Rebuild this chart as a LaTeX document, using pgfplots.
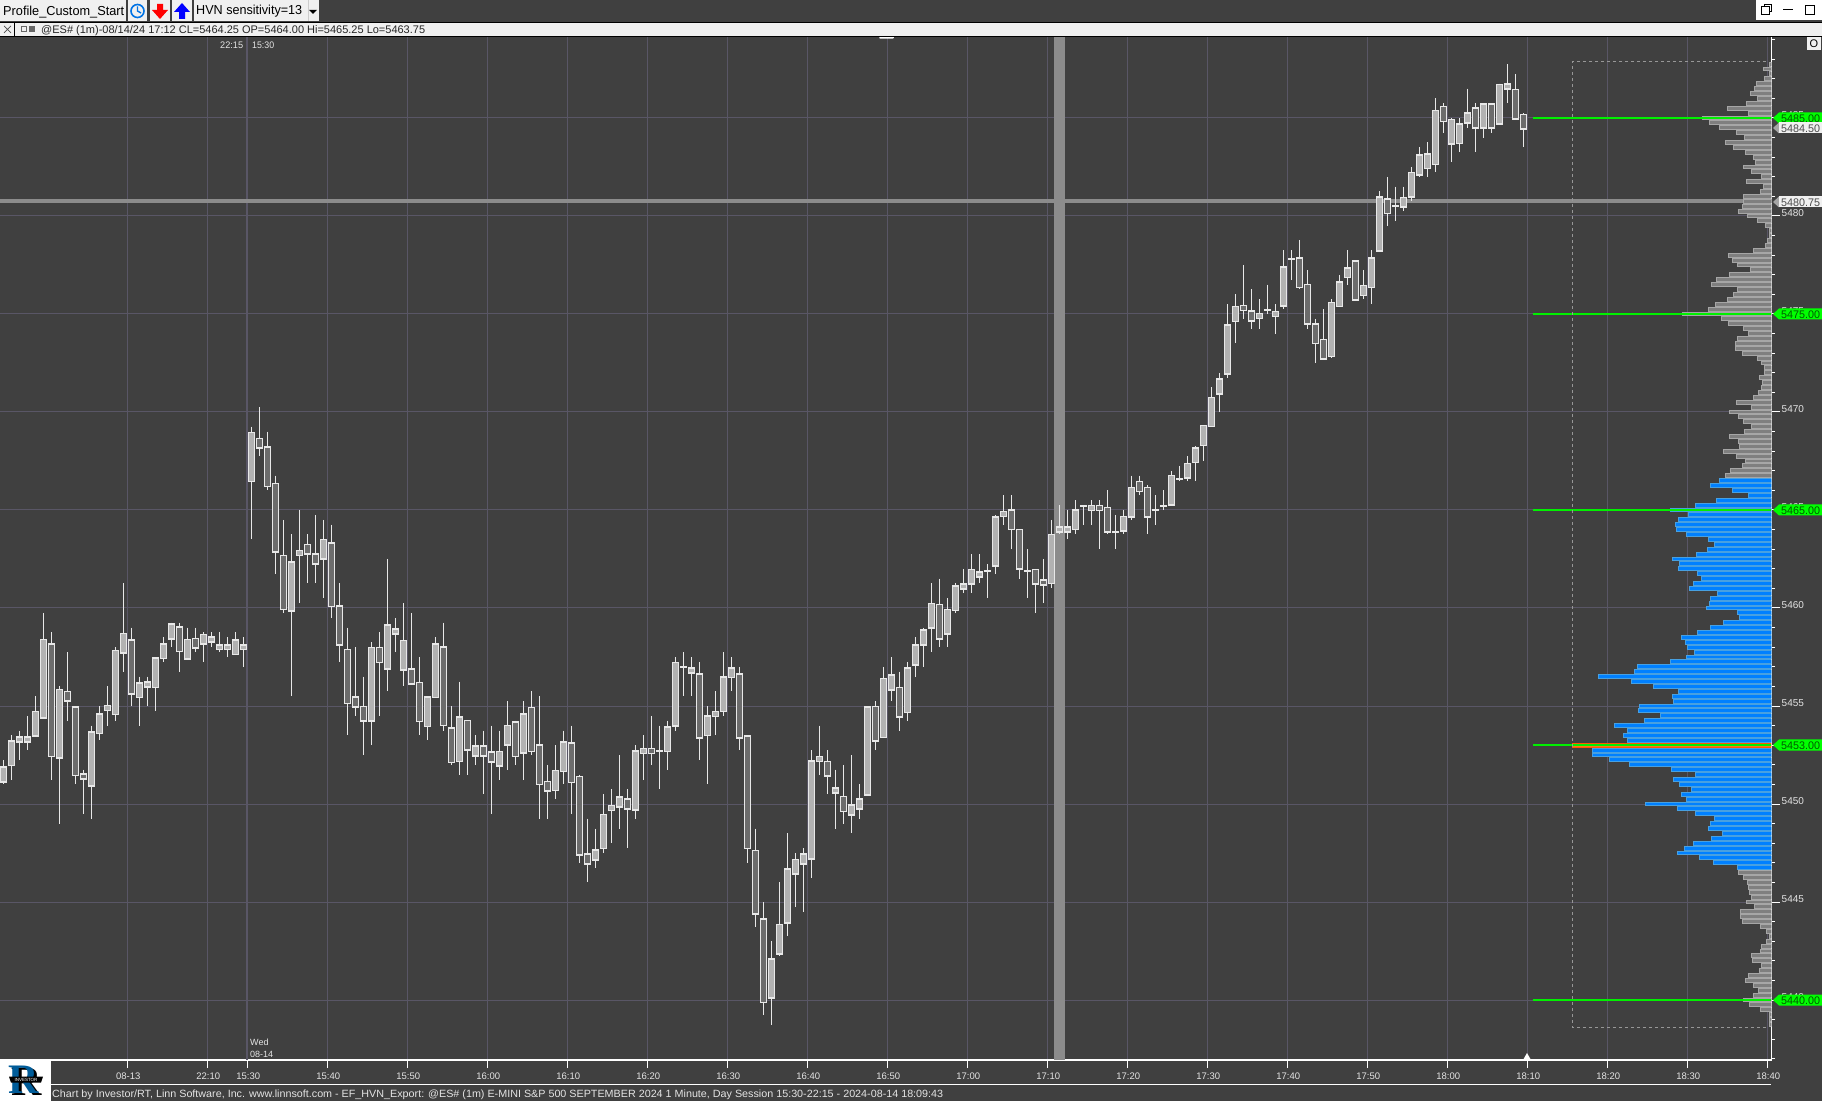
\documentclass[border=0pt]{standalone}
\usepackage{graphicx}
\usepackage{fontspec}
\setmainfont{Liberation Sans}
\newfontfamily\serifb{Liberation Serif}
\usepackage{pgfplots}
\usepackage{pgfplotstable}
\pgfplotsset{compat=1.18}
\definecolor{bg}{HTML}{404040}
\definecolor{gridc}{HTML}{595666}
\definecolor{cross}{HTML}{8C8C8C}
\definecolor{upc}{HTML}{B2B2B2}
\definecolor{dnc}{HTML}{6C6C6C}
\definecolor{edge}{HTML}{E8E8E8}
\definecolor{grn}{HTML}{00F000}
\definecolor{tagg}{HTML}{00FF00}
\definecolor{bluef}{HTML}{0080FF}
\definecolor{blued}{HTML}{48A0E0}
\definecolor{greyf}{HTML}{7F7F7F}
\definecolor{greyd}{HTML}{A6A6A6}
\definecolor{btn}{HTML}{F0F0F0}
\definecolor{txtl}{HTML}{E4E4E4}
\pgfplotstableread{
i o h l c
0 5451.25 5452.25 5451 5452
1 5452 5453.5 5451.25 5453.25
2 5453.25 5453.75 5452.25 5453.5
3 5453.25 5454.5 5452.75 5453.5
4 5453.5 5455.5 5453.5 5454.75
5 5454.5 5459.75 5454.5 5458.5
6 5458.25 5458.75 5451.25 5452.5
7 5452.5 5456 5449 5456
8 5455.75 5457.75 5454.25 5455.25
9 5455 5455 5451 5451.5
10 5451.5 5451.75 5449.5 5451.25
11 5451 5454 5449.25 5453.75
12 5453.75 5455 5453.25 5454.75
13 5454.75 5456 5454 5455
14 5454.75 5458 5454.25 5458
15 5457.75 5461.25 5456.75 5458.75
16 5458.5 5459 5455 5455.75
17 5455.5 5456.5 5454 5456.25
18 5456 5456.5 5455 5456.25
19 5456 5457.5 5454.75 5457.5
20 5457.5 5458.5 5457.25 5458.25
21 5458.5 5459.25 5458 5459.25
22 5459 5459.25 5456.75 5457.75
23 5457.5 5459 5457.5 5458.5
24 5458.5 5459 5457.75 5458
25 5458.25 5458.75 5457.25 5458.75
26 5458.25 5458.75 5458 5458.5
27 5458 5458.75 5457.75 5458.25
28 5458 5458.5 5457.5 5458.25
29 5457.75 5458.75 5457.75 5458.5
30 5458 5458.5 5457 5458.25
31 5466.5 5469.25 5463.5 5469
32 5468.75 5470.25 5467.75 5468.25
33 5468.25 5469 5466 5466.25
34 5466.5 5466.75 5461.75 5463
35 5462.75 5464.5 5459.75 5460
36 5460 5463.75 5455.5 5462.5
37 5462.75 5465 5460.25 5463
38 5463.25 5463.75 5461.25 5462.75
39 5462.75 5464.75 5461.25 5462.25
40 5462.5 5464.5 5460.5 5463.5
41 5463.5 5464.25 5459.5 5460.25
42 5460.25 5461.25 5457.25 5458.25
43 5458 5459 5453.5 5455.25
44 5455.5 5458 5454.5 5455
45 5455 5456.5 5452.5 5454.25
46 5454.25 5458.25 5453 5458
47 5458 5458.75 5454.5 5457.25
48 5457 5462.5 5455.75 5459.25
49 5458.75 5459.5 5457.75 5459
50 5457 5460.25 5456 5458.5
51 5457 5459.75 5456.25 5456.25
52 5456.25 5457.5 5453.5 5454.25
53 5454 5455.5 5453.25 5455.5
54 5455.5 5458.5 5455.5 5458.25
55 5458 5459.25 5453.75 5454
56 5454 5455 5452 5452.25
57 5452.25 5456.25 5451.5 5454.5
58 5454.25 5454.25 5451.5 5452.75
59 5452.5 5453.5 5452 5453
60 5453 5453.75 5450.5 5452.5
61 5452.75 5454 5449.5 5452.25
62 5452 5453.75 5451.25 5452.75
63 5453 5455.25 5451.75 5454
64 5454.25 5454.25 5452 5452.5
65 5452.75 5455.25 5451.25 5454.75
66 5455 5455.75 5452.5 5452.75
67 5453 5455.5 5449.25 5451
68 5451.25 5452 5449.25 5450.75
69 5450.75 5453 5450.25 5451.75
70 5451.75 5453.75 5451 5453.25
71 5453.25 5454 5449.5 5451.25
72 5451.5 5451.5 5447 5447.5
73 5447.5 5449.25 5446 5447
74 5447.25 5448.75 5446.75 5447.75
75 5447.75 5450.5 5447.5 5449.5
76 5449.75 5450.75 5448 5450
77 5450 5452.5 5448.75 5450.5
78 5450.25 5450.75 5447.75 5449.75
79 5449.75 5453 5449.25 5452.75
80 5452.75 5453.5 5451.25 5453
81 5453 5454.5 5452 5452.75
82 5452.75 5454 5450.75 5452.75
83 5452.75 5454.25 5451.75 5454
84 5454 5457.5 5453.75 5457.25
85 5457 5457.75 5455.5 5457
86 5456.75 5457.5 5455.5 5457
87 5456.75 5457.25 5452.25 5453.5
88 5453.5 5455 5451 5454.5
89 5454.5 5455.75 5453.5 5454.75
90 5454.75 5457.75 5454.5 5456.5
91 5456.5 5457.5 5455.75 5457
92 5456.75 5457 5452.75 5453.5
93 5453.5 5453.5 5447 5447.75
94 5447.75 5448.75 5443.75 5444.5
95 5444.25 5445 5439.25 5440
96 5440.25 5443 5438.75 5442.25
97 5442.5 5446 5442.25 5444
98 5444 5448.5 5443.25 5446.75
99 5446.5 5447.5 5444.75 5447.25
100 5447 5447.75 5444.5 5447.5
101 5447.25 5452.75 5446.25 5452.25
102 5452.25 5454 5451.5 5452.5
103 5452.25 5452.75 5450.5 5451.5
104 5450.75 5451.75 5448.75 5451
105 5450.5 5452 5449 5449.75
106 5449.5 5452.5 5448.5 5450
107 5449.75 5451 5449.25 5450.25
108 5450.5 5455 5450.5 5455
109 5455 5455.25 5452.75 5453.25
110 5453.5 5457 5453.5 5456.5
111 5456 5457.5 5455.25 5456.75
112 5456 5456.75 5453.75 5454.5
113 5454.75 5457.25 5454.25 5457
114 5457.25 5458.5 5456.5 5458.25
115 5458.25 5459 5457 5459
116 5459 5461.25 5457.75 5460.25
117 5460.25 5461.5 5458 5458.5
118 5458.75 5460.5 5458 5460
119 5460 5461.25 5459.75 5461.25
120 5461 5462 5460.75 5461.25
121 5461.25 5462.75 5460.75 5462
122 5461.75 5462.75 5461.25 5462
123 5462 5462.25 5460.5 5462
124 5462.25 5464.75 5461.75 5464.75
125 5464.75 5465.75 5464.25 5465
126 5465 5465.75 5463 5464
127 5464 5464 5461.5 5462
128 5462 5463 5460.5 5462
129 5462 5462 5459.75 5461.25
130 5461.5 5462.5 5460.25 5461.25
131 5461.25 5464.5 5461 5463.75
132 5464 5465.25 5463.75 5464.25
133 5464 5465 5463.5 5464.25
134 5464 5465.5 5463.75 5465
135 5465.25 5465.25 5464.25 5465.25
136 5465 5465.5 5464.25 5465.25
137 5465.25 5465.5 5463 5465
138 5465.25 5466 5463.75 5464
139 5464 5464.75 5463 5464
140 5464 5465 5463.75 5464.75
141 5464.75 5466.75 5464.5 5466.25
142 5466.5 5466.75 5465.75 5466
143 5466.25 5466.25 5463.75 5464.75
144 5465 5465.75 5464.25 5465
145 5465.25 5466 5465 5465.25
146 5465.25 5467 5465.25 5466.75
147 5466.75 5467.25 5466.5 5466.75
148 5466.75 5467.75 5466.5 5467.5
149 5467.5 5468.25 5466.5 5468.25
150 5468.25 5469.25 5467.5 5469.25
151 5469.25 5471.25 5469.25 5470.75
152 5471 5472 5470 5471.75
153 5472 5475.5 5471.75 5474.5
154 5474.75 5476 5473.5 5475.5
155 5475.5 5477.5 5474.75 5475.25
156 5475.25 5476.25 5474.25 5474.75
157 5474.75 5475.75 5474.25 5475
158 5475.25 5476.5 5475 5475.25
159 5475 5475.5 5474 5475.25
160 5475.5 5478.25 5475.25 5477.5
161 5477.75 5478.25 5476.75 5477.75
162 5478 5478.75 5476.25 5476.5
163 5476.5 5477.25 5474.25 5474.5
164 5474.5 5474.75 5472.5 5473.5
165 5473.75 5475.25 5472.75 5472.75
166 5473 5475.75 5472.75 5475.75
167 5475.5 5477 5475.5 5476.75
168 5477 5478.25 5476.5 5477.5
169 5477.75 5477.75 5475.75 5475.75
170 5476 5477.25 5475.75 5476.5
171 5476.5 5478.25 5475.5 5478
172 5478.25 5481.25 5478.25 5481
173 5481 5482 5479.5 5480.25
174 5480.5 5481.5 5479.75 5480.5
175 5480.5 5481.5 5480.25 5481
176 5481 5482.5 5480.75 5482.25
177 5482.25 5483.5 5482 5483.25
178 5482.5 5483.75 5482 5483.25
179 5482.75 5486 5482.25 5485.5
180 5485.75 5485.75 5484.25 5485
181 5483.75 5485 5482.75 5485
182 5483.75 5485 5483.25 5484.75
183 5484.75 5486.5 5484.5 5485.25
184 5485.5 5485.75 5483.25 5484.5
185 5484.5 5485.75 5484 5485.75
186 5485.75 5485.75 5484.25 5484.5
187 5484.75 5486.75 5484.75 5486.75
188 5486.5 5487.75 5485.75 5486.75
189 5486.5 5487.25 5485 5485
190 5485.25 5485.25 5483.5 5484.5
}\candles
\pgfplotstableread{
p v
5487.75 7
5487.5 25
5487.25 7
5487 22
5486.75 46
5486.5 52
5486.25 64
5486 43
5485.75 76
5485.5 133
5485.25 70
5485 208
5484.75 187
5484.5 157
5484.25 106
5484 82
5483.75 139
5483.5 115
5483.25 79
5483 55
5482.75 49
5482.5 85
5482.25 61
5482 31
5481.75 76
5481.5 25
5481.25 34
5481 85
5480.75 85
5480.5 88
5480.25 100
5480 73
5479.75 43
5479.5 19
5479.25 7
5479 7
5478.75 13
5478.5 19
5478.25 55
5478 130
5477.75 118
5477.5 103
5477.25 64
5477 127
5476.75 166
5476.5 181
5476.25 103
5476 115
5475.75 133
5475.5 169
5475.25 190
5475 268
5474.75 151
5474.5 130
5474.25 85
5474 70
5473.75 103
5473.5 109
5473.25 109
5473 88
5472.75 43
5472.5 31
5472.25 22
5472 22
5471.75 37
5471.5 28
5471.25 31
5471 40
5470.75 55
5470.5 106
5470.25 61
5470 127
5469.75 100
5469.5 85
5469.25 61
5469 82
5468.75 127
5468.5 100
5468.25 97
5468 145
5467.75 106
5467.5 79
5467.25 88
5467 124
5466.75 139
5446.5 100
5446.25 85
5446 73
5445.75 70
5445.5 67
5445.25 61
5445 76
5444.75 52
5444.5 94
5444.25 94
5444 88
5443.75 34
5443.5 16
5443.25 7
5443 16
5442.75 31
5442.5 34
5442.25 61
5442 58
5441.75 31
5441.5 37
5441.25 70
5441 79
5440.75 55
5440.5 40
5440.25 55
5440 85
5439.75 67
5439.5 34
5439.25 7
5439 7
5438.75 7
}\profgrey
\pgfplotstableread{
p v
5466.5 157
5466.25 184
5466 118
5465.75 70
5465.5 166
5465.25 229
5465 304
5464.75 250
5464.5 280
5464.25 289
5464 286
5463.75 256
5463.5 190
5463.25 172
5463 193
5462.75 226
5462.5 298
5462.25 277
5462 280
5461.75 223
5461.5 211
5461.25 235
5461 247
5460.75 163
5460.5 184
5460.25 187
5460 196
5459.75 103
5459.5 97
5459.25 145
5459 184
5458.75 223
5458.5 271
5458.25 259
5458 253
5457.75 232
5457.5 256
5457.25 304
5457 403
5456.75 412
5456.5 520
5456.25 421
5456 355
5455.75 280
5455.5 298
5455.25 295
5455 397
5454.75 400
5454.5 334
5454.25 382
5454 472
5453.75 433
5453.5 445
5453.25 433
5452.75 538
5452.5 538
5452.25 487
5452 427
5451.75 301
5451.5 229
5451.25 295
5451 277
5450.75 241
5450.5 271
5450.25 256
5450 379
5449.75 283
5449.5 229
5449.25 172
5449 184
5448.75 190
5448.5 148
5448.25 181
5448 235
5447.75 262
5447.5 283
5447.25 217
5447 175
5446.75 103
}\profblue
\newcommand\W[2]{\resizebox{#1pt}{\height}{#2}}
\newcommand\fs[1]{\fontsize{#1}{#1}\selectfont}
\begin{document}
\begin{tikzpicture}
\useasboundingbox (0,0) rectangle (1822pt,1101pt);
\fill[bg] (0,0) rectangle (1822pt,1101pt);
\begin{axis}[
  at={(0pt,41pt)}, anchor=south west,
  scale only axis, width=1771.5pt, height=1024pt,
  xmin=-0.41, xmax=221.03, ymin=5436.94, ymax=5489.18,
  axis x line=bottom, axis y line=right,
  axis line style={-,draw=white,line width=1.4pt},
  xtick={15.5,25.5,30.5,40.5,50.5,60.5,70.5,80.5,90.5,100.5,110.5,120.5,130.5,140.5,150.5,160.5,170.5,180.5,190.5,200.5,210.5,220.5},
  xticklabels={08-13,22:10,15:30,15:40,15:50,16:00,16:10,16:20,16:30,16:40,16:50,17:00,17:10,17:20,17:30,17:40,17:50,18:00,18:10,18:20,18:30,18:40},
  ytick={5440,5445,5450,5455,5460,5465,5470,5475,5480,5485},
  minor ytick={5437,5438,5439,5441,5442,5443,5444,5446,5447,5448,5449,5451,5452,5453,5454,5456,5457,5458,5459,5461,5462,5463,5464,5466,5467,5468,5469,5471,5472,5473,5474,5476,5477,5478,5479,5481,5482,5483,5484,5486,5487,5488,5489},
  grid=major, grid style={gridc,line width=1pt},
  tick align=outside, tick style={draw=white,line width=1pt},
  major tick length=8pt, minor tick length=3.5pt,
  x tick style={draw=white,line width=1pt},
  /pgf/number format/assume math mode=true,
  /pgf/number format/1000 sep={},
  /pgf/number format/fixed,
  ticklabel style={text=txtl,font=\fs{10}},
  yticklabel style={anchor=west,inner sep=0pt,xshift=2pt,yshift=3pt},
  xticklabel style={inner sep=0pt,yshift=-5pt,xshift=1pt,font=\fs{9.5}},
  clip=true,
]
\addplot[draw=gridc,line width=2pt,forget plot] coordinates {(30.5,5436.94)(30.5,5489.18)};
\addplot[draw=cross,line width=4pt,forget plot] coordinates {(-0.41,5480.75)(221.03,5480.75)};
\addplot[draw=cross,line width=11pt,forget plot] coordinates {(132,5436.94)(132,5489.18)};
% wicks
\addplot[draw=none,mark=none,error bars/.cd,y dir=minus,y explicit,error mark=none,
  error bar style={draw=edge,line width=1pt}]
  table[x=i,y=h,y error minus expr={\thisrow{h}-\thisrow{l}}] {\candles};
% body outline
\addplot[draw=none,mark=none,error bars/.cd,y dir=both,y explicit,error mark=none,
  error bar style={draw=edge,line width=6.8pt}]
  table[x=i,y expr={(\thisrow{o}+\thisrow{c})/2},y error expr={abs(\thisrow{o}-\thisrow{c})/2+0.04}] {\candles};
% body fill, up
\addplot[draw=none,mark=none,error bars/.cd,y dir=both,y explicit,error mark=none,
  error bar style={draw=upc,line width=4.8pt}]
  table[x expr={\thisrow{c}>=\thisrow{o} ? \thisrow{i} : nan},y expr={(\thisrow{o}+\thisrow{c})/2},y error expr={max(abs(\thisrow{o}-\thisrow{c})/2-0.04,0)}] {\candles};
% body fill, down
\addplot[draw=none,mark=none,error bars/.cd,y dir=both,y explicit,error mark=none,
  error bar style={draw=dnc,line width=4.8pt}]
  table[x expr={\thisrow{c}<\thisrow{o} ? \thisrow{i} : nan},y expr={(\thisrow{o}+\thisrow{c})/2},y error expr={max(abs(\thisrow{o}-\thisrow{c})/2-0.04,0)}] {\candles};
\end{axis}
% value profile, same price scale, lengths measured from the right edge
\begin{axis}[
  at={(0pt,41pt)}, anchor=south west,
  scale only axis, width=1771.5pt, height=1024pt,
  x dir=reverse, xmin=0, xmax=5314.5, ymin=5436.94, ymax=5489.18,
  hide axis, clip=true,
]
\addplot[xbar,bar width=3.9pt,bar shift=0pt,fill=greyf,draw=greyd,line width=1pt,forget plot]
  table[x=v,y=p] {\profgrey};
\addplot[xbar,bar width=3.9pt,bar shift=0pt,fill=bluef,draw=blued,line width=1pt,forget plot]
  table[x=v,y=p] {\profblue};
\addplot[xbar,bar width=3.9pt,bar shift=0pt,fill=orange!80!red!90!white,draw=orange!70!red,line width=1pt,forget plot]
  coordinates {(598,5453)};
\addplot[draw=grn,line width=2pt,forget plot] coordinates {(714,5485)(0,5485)};
\addplot[draw=grn,line width=2pt,forget plot] coordinates {(714,5475)(0,5475)};
\addplot[draw=grn,line width=2pt,forget plot] coordinates {(714,5465)(0,5465)};
\addplot[draw=grn,line width=2pt,forget plot] coordinates {(714,5453)(0,5453)};
\addplot[draw=grn,line width=2pt,forget plot] coordinates {(714,5440)(0,5440)};
\end{axis}
\begin{scope}[x=1pt,y=-1pt,yshift=1101pt]
% dashed value-area frame
\draw[cross!90!white,dash pattern=on 3pt off 3pt,line width=1pt] (1766,61.5)--(1572.5,61.5)--(1572.5,1027.5)--(1766,1027.5);
% price tags
\foreach \yy/\lb in {118/5485.00,314/5475.00,510/5465.00,745/5453.00,1000/5440.00}{
  \fill[tagg] (1773,\yy)--(1779,\yy-5.5)--(1822,\yy-5.5)--(1822,\yy+5.5)--(1779,\yy+5.5)--cycle;
  \node[anchor=west,inner sep=0pt,text=green!35!black] at (1781,\yy+.5) {\W{39}{\fs{11}\lb}};
}
\foreach \yy/\lb in {128/5484.50,202/5480.75}{
  \fill[greyf!70!white] (1773,\yy)--(1779,\yy-5.5)--(1779,\yy+5.5)--cycle;
  \fill[btn] (1779,\yy-5.5) rectangle (1822,\yy+5.5);
  \node[anchor=west,inner sep=0pt,text=black!70] at (1781,\yy+.5) {\W{39}{\fs{11}\lb}};
}
% top text on the chart
\node[anchor=west,inner sep=0pt,text=txtl] at (220,45) {\W{23}{\fs{9.5}22:15}};
\node[anchor=west,inner sep=0pt,text=txtl] at (252,45) {\W{22}{\fs{9.5}15:30}};
\node[anchor=west,inner sep=0pt,text=txtl] at (250,1042) {\fs{9}Wed};
\node[anchor=west,inner sep=0pt,text=txtl] at (250,1054) {\fs{9}08-14};
\draw[white,line width=1.5pt,rounded corners=.5pt] (880,37)--(880,38)--(893,38)--(893,37);
\fill[white] (1527,1053)--(1531,1060)--(1523,1060)--cycle;
\fill[bg] (0,0) rectangle (1822,36);
% toolbar
\fill[btn] (0,0) rectangle (126,21);
\fill[btn] (128,0) rectangle (147,21);
\fill[btn] (150,0) rectangle (170,21);
\fill[btn] (172,0) rectangle (192,21);
\fill[btn] (194,0) rectangle (319,21);
\node[anchor=west,inner sep=0pt,text=black] at (3,12) {\W{121}{\fs{13}Profile\_Custom\_Start}};
\node[anchor=west,inner sep=0pt,text=black] at (196,11.5) {\W{106}{\fs{13}HVN sensitivity=13}};
\fill[black] (309,10)--(317,10)--(313,14)--cycle;
\fill[btn!85!black] (308,0) rectangle (309,21);
\draw[blue!50!cyan!90!black,line width=1.6pt] (137.5,11) circle (6.5);
\draw[blue!50!cyan!90!black,line width=1.4pt] (137.5,6.5)--(137.5,11)--(141,13);
\fill[red] (157,4)--(163,4)--(163,10)--(168,10)--(160,19)--(152,10)--(157,10)--cycle;
\fill[blue] (179,19)--(185,19)--(185,12)--(190,12)--(182,3)--(174,12)--(179,12)--cycle;
% status row
\fill[btn] (0,22.5) rectangle (1822,36.5);
\draw[black,line width=1pt] (0,22.5)--(1822,22.5) (0,36.5)--(1822,36.5) (14.5,22.5)--(14.5,36.5);
\draw[black!70,line width=.7pt] (4,26)--(11,33) (11,26)--(4,33);
\fill[black!60] (21,26) rectangle (27,32);
\fill[btn] (22,27) rectangle (26,31);
\fill[black!60] (29,26) rectangle (35,32);
\node[anchor=west,inner sep=0pt,text=black!85] at (41,30.5) {\W{384}{\fs{11}@ES\# (1m)-08/14/24 17:12 CL=5464.25 OP=5464.00 Hi=5465.25 Lo=5463.75}};
% window controls
\fill[white] (1756,0) rectangle (1822,20);
\draw[black,line width=1pt] (1761,7) rectangle (1769,14.5);
\draw[black,line width=1pt] (1764,7)--(1764,4.5)--(1771,4.5)--(1771,12)--(1769,12);
\draw[black,line width=1pt] (1783,10)--(1793,10);
\draw[black,line width=1pt] (1805,5.5) rectangle (1814,14.5);
% O button
\fill[btn] (1807,37.5) rectangle (1821,50);
\node[inner sep=0pt,text=black] at (1814,44) {\fs{11}O};
% footer
\draw[white,line width=1.2pt] (51,1084.5)--(1771,1084.5);
\node[anchor=west,inner sep=0pt,text=txtl] at (52,1094.5) {\W{891}{\fs{10.5}Chart by Investor/RT, Linn Software, Inc. www.linnsoft.com - EF\_HVN\_Export: @ES\# (1m) E-MINI S\&P 500 SEPTEMBER 2024 1 Minute, Day Session 15:30-22:15 - 2024-08-14 18:09:43}};
% logo
\fill[white] (0,1060) rectangle (51,1101);
\node[inner sep=0pt,text=black] at (27,1081.5) {\serifb\bfseries\fs{42}R};
\node[inner sep=0pt,text=blue!40!cyan!60!black] at (24,1080) {\serifb\bfseries\fs{42}R};
\fill[black] (9,1076.5)--(43,1076.5)--(41,1082.5)--(11,1082.5)--cycle;
\node[inner sep=0pt,text=white] at (26,1079.5) {\fs{4.5}INVESTOR};
\end{scope}
\end{tikzpicture}
\end{document}
